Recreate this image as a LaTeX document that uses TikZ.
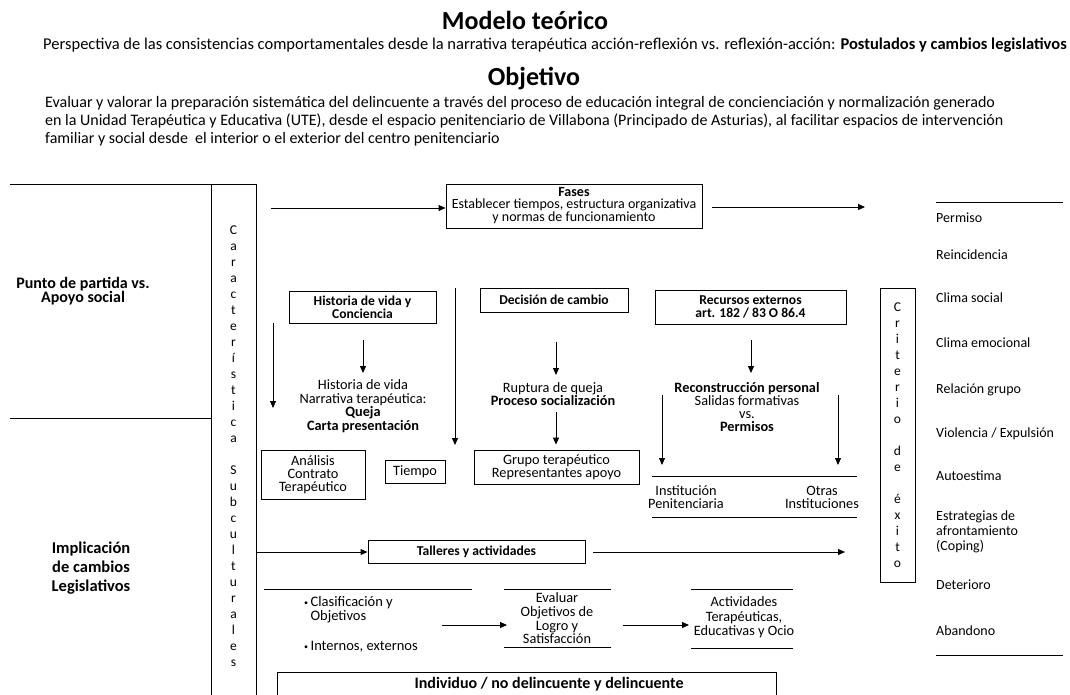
\documentclass[tikz,border=0pt]{standalone}
\usepackage{fontspec}
\setmainfont{Carlito}
\usetikzlibrary{arrows.meta}
\tikzset{
  ln/.style={line width=0.9pt},
  arr/.style={line width=0.9pt, -{Triangle[length=7pt,width=6pt]}},
  bx/.style={draw, line width=0.9pt, inner sep=0pt, align=center, font=\fontsize{14.3}{13}\selectfont},
  bbx/.style={bx, font=\bfseries\fontsize{13.6}{13}\selectfont},
  tx/.style={inner sep=0pt, align=center, font=\fontsize{14.3}{13}\selectfont},
  item/.style={inner sep=0pt, anchor=west, align=left, font=\fontsize{14}{15}\selectfont},
  big/.style={inner sep=0pt, font=\bfseries\fontsize{26}{28}\selectfont},
  vert/.style={inner sep=0pt, align=center, font=\fontsize{13.5}{16}\selectfont},
}
\newcommand\mybul{\raisebox{1.5pt}{\fontsize{8}{8}\selectfont•}\,}
\begin{document}
\begin{tikzpicture}[x=1pt,y=-1pt]
\useasboundingbox (0,0) rectangle (1070,694);
\clip (0,0) rectangle (1070,694);
% header
\node[big] (title) at (525,20) {Modelo teórico};
\node[inner sep=0pt, font=\fontsize{16.5}{18}\selectfont] (persp) at (555,45) {Perspectiva de las consistencias comportamentales desde la narrativa terapéutica acción-reflexión vs. reflexión-acción: \textbf{Postulados y cambios legislativos}};
\node[big] (obj) at (534,79) {Objetivo};
\node[inner sep=0pt, anchor=west, align=left, font=\fontsize{16}{18}\selectfont] (objtxt) at (45,121) {Evaluar y valorar la preparación sistemática del delincuente a través del proceso de educación integral de concienciación y normalización generado\\en la Unidad Terapéutica y Educativa (UTE), desde el espacio penitenciario de Villabona (Principado de Asturias), al facilitar espacios de intervención\\familiar y social desde\ \ el interior o el exterior del centro penitenciario};
% left frame
\coordinate (ftl) at (10,184);
\coordinate (fcl) at (211,184);
\coordinate (fcr) at (256,184);
\coordinate (fml) at (10,418);
\coordinate (fmr) at (211,418);
\draw[ln] (ftl) -- (fcr);
\draw[ln] (fcl) -- ++(0,520);
\draw[ln] (fcr) -- ++(0,520);
\draw[ln] (fml) -- (fmr);
\node[inner sep=0pt, align=center, font=\bfseries\fontsize{16}{12}\selectfont] (punto) at (83,291) {Punto de partida vs.\\Apoyo social};
\node[inner sep=0pt, align=center, font=\bfseries\fontsize{16.5}{19}\selectfont] (impl) at (91,568) {Implicación\\de cambios\\Legislativos};
\node[vert] (carac) at (233.5,446) {C\\a\\r\\a\\c\\t\\e\\r\\í\\s\\t\\i\\c\\a\\[16pt]S\\u\\b\\c\\u\\l\\t\\u\\r\\a\\l\\e\\s};
% Fases
\node[bx, minimum width=256pt, minimum height=44pt, font=\fontsize{14}{12}\selectfont] (fases) at (574,206) {\textbf{Fases}\\Establecer tiempos, estructura organizativa\\y normas de funcionamiento};
\coordinate (fin) at (271,208);
\draw[arr] (fin) -- (fin -| fases.west);
\coordinate (fout) at (712,207);
\coordinate (fend) at (865,207);
\draw[arr] (fout) -- (fend);
% column 1
\node[bbx, minimum width=147pt, minimum height=32pt] (hist) at (362.5,307) {Historia de vida y\\Conciencia};
\coordinate (la1) at (273,323);
\coordinate (la2) at (273,408);
\draw[arr] (la1) -- (la2);
\coordinate (ha1) at (363,340);
\coordinate (ha2) at (363,373);
\draw[arr] (ha1) -- (ha2);
\node[tx, font=\fontsize{14.3}{13.6}\selectfont] (histtxt) at (363,406) {Historia de vida\\Narrativa terapéutica:\\\textbf{Queja}\\\textbf{Carta presentación}};
\coordinate (ma1) at (455,288);
\coordinate (ma2) at (455,445);
\draw[arr] (ma1) -- (ma2);
\node[bx, minimum width=104pt, minimum height=49pt] (anal) at (313,474.5) {Análisis\\Contrato\\Terapéutico};
\node[bx, minimum width=60pt, minimum height=23pt] (tiempo) at (415,471.5) {Tiempo};
% column 2
\node[bbx, minimum width=148pt, minimum height=24pt] (decis) at (554,300) {Decisión de cambio};
\coordinate (da1) at (556,342);
\coordinate (da2) at (556,375);
\draw[arr] (da1) -- (da2);
\node[tx] (rupt) at (553,394) {Ruptura de queja\\\textbf{Proceso socialización}};
\node[bx, minimum width=165pt, minimum height=34pt] (grupo) at (556.5,467) {Grupo terapéutico\\Representantes apoyo};
\coordinate (db1) at (556,412);
\draw[arr] (db1) -- ([yshift=5pt]db1 |- grupo.north);
% column 3
\node[bbx, minimum width=191pt, minimum height=34pt] (recur) at (750.5,307) {Recursos externos\\art. 182 / 83 O 86.4};
\coordinate (ra1) at (751,340);
\coordinate (ra2) at (751,373);
\draw[arr] (ra1) -- (ra2);
\node[tx, font=\fontsize{14.3}{13.3}\selectfont] (recon) at (747,407) {\textbf{Reconstrucción personal}\\Salidas formativas\\vs.\\\textbf{Permisos}};
\coordinate (sa1) at (662,395);
\coordinate (sa2) at (662,465);
\coordinate (sb1) at (838,395);
\coordinate (sb2) at (838,465);
\draw[arr] (sa1) -- (sa2);
\draw[arr] (sb1) -- (sb2);
\coordinate (h1a) at (652,476);
\coordinate (h1b) at (857,476);
\coordinate (h2a) at (652,517);
\coordinate (h2b) at (857,517);
\draw[ln] (h1a) -- (h1b);
\draw[ln] (h2a) -- (h2b);
\node[tx] (inst) at (686,497) {Institución\\Penitenciaria};
\node[tx] (otras) at (822,497) {Otras\\Instituciones};
% Criterio
\node[bx, minimum width=35pt, minimum height=294pt, font=\fontsize{13.5}{16}\selectfont] (crit) at (897.5,435) {C\\r\\i\\t\\e\\r\\i\\o\\[16pt]d\\e\\[16pt]é\\x\\i\\t\\o};
% Talleres
\node[bbx, minimum width=217pt, minimum height=23pt] (tall) at (476.5,551.5) {Talleres y actividades};
\coordinate (ta1) at (256,552);
\draw[arr] (ta1) -- (ta1 -| tall.west);
\coordinate (tb1) at (593,552);
\coordinate (tb2) at (845,552);
\draw[arr] (tb1) -- (tb2);
% bottom row
\coordinate (b1a) at (264,589);
\coordinate (b1b) at (472,589);
\draw[ln] (b1a) -- (b1b);
\node[item, font=\fontsize{14.5}{14}\selectfont] (clasif) at (304,610) {\mybul Clasificación y\\\phantom{\mybul}Objetivos};
\node[item, font=\fontsize{14.5}{14}\selectfont] (intern) at (304,647) {\mybul Internos, externos};
\coordinate (ba1) at (442,625);
\coordinate (ba2) at (507,625);
\draw[arr] (ba1) -- (ba2);
\coordinate (e1a) at (504,589);
\coordinate (e1b) at (611,589);
\coordinate (e2a) at (504,647);
\coordinate (e2b) at (611,647);
\draw[ln] (e1a) -- (e1b);
\draw[ln] (e2a) -- (e2b);
\node[tx, font=\fontsize{14.3}{13.7}\selectfont] (eval) at (557,618.5) {Evaluar\\Objetivos de\\Logro y\\Satisfacción};
\coordinate (bb1) at (623,625);
\coordinate (bb2) at (689,625);
\draw[arr] (bb1) -- (bb2);
\coordinate (a1a) at (691,589);
\coordinate (a1b) at (793,589);
\coordinate (a2a) at (691,648);
\coordinate (a2b) at (793,648);
\draw[ln] (a1a) -- (a1b);
\draw[ln] (a2a) -- (a2b);
\node[tx, font=\fontsize{14.3}{14.5}\selectfont] (activ) at (744,617.5) {Actividades\\Terapéuticas,\\Educativas y Ocio};
\coordinate (indA) at (277,672);
\coordinate (indB) at (776,710);
\draw[ln] (indA) rectangle (indB);
\node[inner sep=0pt, font=\bfseries\fontsize{16}{18}\selectfont] (indiv) at (549,684) {Individuo / no delincuente y delincuente};
% right list
\coordinate (rt1) at (936,202);
\coordinate (rt2) at (1063,202);
\coordinate (rb1) at (936,655);
\coordinate (rb2) at (1063,655);
\draw[ln] (rt1) -- (rt2);
\draw[ln] (rb1) -- (rb2);
\node[item] (r1) at (936,218) {Permiso};
\node[item] (r2) at (936,255) {Reincidencia};
\node[item] (r3) at (936,298) {Clima social};
\node[item] (r4) at (936,343) {Clima emocional};
\node[item] (r5) at (936,390) {Relación grupo};
\node[item] (r6) at (936,434) {Violencia / Expulsión};
\node[item] (r7) at (936,476) {Autoestima};
\node[item] (r8) at (936,532) {Estrategias de\\afrontamiento\\(Coping)};
\node[item] (r9) at (936,585) {Deterioro};
\node[item] (r10) at (936,631) {Abandono};
\end{tikzpicture}
\end{document}
